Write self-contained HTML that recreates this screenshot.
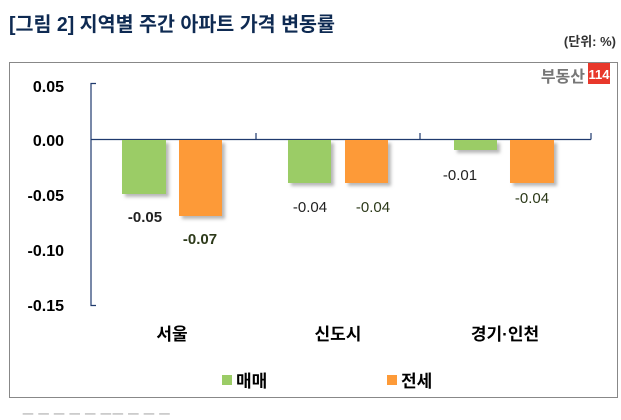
<!DOCTYPE html>
<html><head><meta charset="utf-8"><style>
body{margin:0;background:#fff;}
svg text{font-family:"Liberation Sans","Noto Sans CJK KR",sans-serif;}
</style></head><body>
<svg width="621" height="415" xmlns="http://www.w3.org/2000/svg">
<defs><filter id="s" x="-20%" y="-20%" width="150%" height="150%"><feDropShadow dx="3" dy="3" stdDeviation="1.5" flood-color="#888" flood-opacity="0.6"/></filter></defs>
<text x="9" y="31" font-size="20" font-weight="bold" fill="#0e2a52" textLength="326" lengthAdjust="spacingAndGlyphs">[그림 2] 지역별 주간 아파트 가격 변동률</text>
<text x="616" y="46" font-size="13" text-anchor="end" fill="#333" font-weight="bold">(단위: %)</text>
<rect x="9.5" y="62.5" width="608" height="335" fill="#fff" stroke="#888" stroke-width="1"/>
<text x="585" y="82" font-size="16" font-weight="bold" fill="#777" text-anchor="end">부동산</text>
<rect x="588" y="63" width="22" height="21" fill="#e8382b"/>
<text x="599" y="79" font-size="13" font-weight="bold" fill="#fff" text-anchor="middle">114</text>
<g font-size="16" font-weight="bold" fill="#000" text-anchor="end">
<text x="64" y="92">0.05</text><text x="64" y="146">0.00</text><text x="64" y="201">-0.05</text><text x="64" y="256">-0.10</text><text x="64" y="311">-0.15</text>
</g>
<g stroke="#1f3a6e" stroke-width="1.2" fill="none">
<path d="M96,83.5 H91 V305.5 H96"/>
<path d="M91,139.5 H591"/>
<path d="M256,133 V139.5 M420,133 V139.5 M591,133 V139.5"/>
</g>
<g filter="url(#s)">
<rect x="122" y="140" width="44" height="54" fill="#9bcc66"/>
<rect x="179" y="140" width="43" height="76" fill="#fd9a38"/>
<rect x="288" y="140" width="43" height="43" fill="#9bcc66"/>
<rect x="345" y="140" width="43" height="43" fill="#fd9a38"/>
<rect x="454" y="140" width="43" height="10" fill="#9bcc66"/>
<rect x="510" y="140" width="44" height="43" fill="#fd9a38"/>
</g>
<g font-size="15" text-anchor="middle">
<text x="145" y="222" fill="#222" font-weight="bold">-0.05</text>
<text x="200" y="244" fill="#2d3a1a" font-weight="bold">-0.07</text>
<text x="310" y="212" fill="#222">-0.04</text>
<text x="373" y="212" fill="#2d3a1a">-0.04</text>
<text x="460" y="180" fill="#222">-0.01</text>
<text x="532" y="203" fill="#2d3a1a">-0.04</text>
</g>
<g font-size="17" font-weight="bold" fill="#000" text-anchor="middle">
<text x="172" y="340">서울</text><text x="338" y="340">신도시</text><text x="505" y="340">경기·인천</text>
</g>
<rect x="222" y="375" width="10" height="10" fill="#9bcc66"/>
<text x="236" y="387" font-size="17" font-weight="bold">매매</text>
<rect x="387" y="375" width="10" height="10" fill="#fd9a38"/>
<text x="401" y="387" font-size="17" font-weight="bold">전세</text>
<text x="22" y="419" font-size="13" fill="#999">ㅡ   ㅡ  ㅡ ㅡ  ㅡ ㅡㅡ   ㅡ ㅡ   ㅡ</text>
</svg>
</body></html>
